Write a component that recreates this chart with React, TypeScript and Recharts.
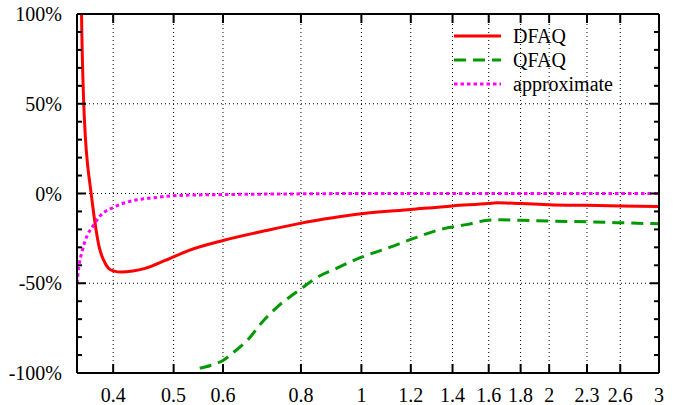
import { LineChart, Line, XAxis, YAxis, ReferenceLine } from 'recharts';

const FONT = '"Liberation Serif", "Times New Roman", serif';

const X_TICKS = [0.4, 0.5, 0.6, 0.8, 1, 1.2, 1.4, 1.6, 1.8, 2, 2.3, 2.6, 3];
const Y_TICKS = [-100, -90, -80, -70, -60, -50, -40, -30, -20, -10, 0, 10, 20, 30, 40, 50, 60, 70, 80, 90, 100];
const Y_GRID = [50, 0, -50];

// relative error in %, x on a log axis
const DFAQ = [
  { x: 0.3546, v: 146 }, { x: 0.3559, v: 100 }, { x: 0.3585, v: 53.7 }, { x: 0.3611, v: 30.6 },
  { x: 0.3638, v: 16.7 }, { x: 0.3675, v: 4 }, { x: 0.3697, v: -3 }, { x: 0.3734, v: -14.5 },
  { x: 0.3799, v: -29.9 }, { x: 0.3863, v: -37.3 }, { x: 0.3931, v: -41.6 }, { x: 0.4, v: -43.1 },
  { x: 0.4129, v: -43.8 }, { x: 0.43, v: -43.2 }, { x: 0.4501, v: -41.7 }, { x: 0.4846, v: -37.3 },
  { x: 0.5281, v: -31.8 }, { x: 0.6, v: -26.2 }, { x: 0.7, v: -20.8 }, { x: 0.8, v: -16.5 },
  { x: 0.9, v: -13.5 }, { x: 1, v: -11.3 }, { x: 1.2, v: -8.9 }, { x: 1.4, v: -6.9 },
  { x: 1.6, v: -5.6 }, { x: 1.65, v: -5.2 }, { x: 1.8, v: -5.6 }, { x: 2, v: -6.2 },
  { x: 2.3, v: -6.6 }, { x: 2.6, v: -6.9 }, { x: 3, v: -7.2 },
];

const QFAQ = [
  { x: 0.5506, v: -97.4 }, { x: 0.5728, v: -95.8 }, { x: 0.6, v: -93 }, { x: 0.6243, v: -88.4 },
  { x: 0.6559, v: -81.9 }, { x: 0.6932, v: -71.7 }, { x: 0.7327, v: -63.3 }, { x: 0.8, v: -53.1 },
  { x: 0.86, v: -45.7 }, { x: 0.9, v: -42.6 }, { x: 1, v: -35.5 }, { x: 1.1, v: -30.5 },
  { x: 1.2, v: -25.6 }, { x: 1.35, v: -19.7 }, { x: 1.48, v: -17.2 }, { x: 1.58, v: -15.1 },
  { x: 1.65, v: -14.6 }, { x: 1.8, v: -14.9 }, { x: 2, v: -15.4 }, { x: 2.3, v: -15.8 },
  { x: 2.6, v: -16.3 }, { x: 3, v: -16.9 },
];

const APPROX = [
  { x: 0.35, v: -50 }, { x: 0.3523, v: -41 }, { x: 0.3568, v: -32 }, { x: 0.3634, v: -23.4 },
  { x: 0.3702, v: -18.8 }, { x: 0.3817, v: -12.3 }, { x: 0.4009, v: -7.6 }, { x: 0.4316, v: -3.9 },
  { x: 0.4642, v: -2.4 }, { x: 0.5066, v: -1.1 }, { x: 0.6, v: -0.6 }, { x: 0.8, v: -0.2 },
  { x: 1, v: 0 }, { x: 3, v: 0 },
];

const SERIES = [
  { name: 'DFAQ', data: DFAQ, color: '#ff0000', dash: undefined },
  { name: 'QFAQ', data: QFAQ, color: '#009a00', dash: '12 7' },
  { name: 'approximate', data: APPROX, color: '#ff00ff', dash: '3.5 3' },
];

const isMajor = (v: number) => v % 50 === 0;

function BottomTick({ x, y, payload }: any) {
  return (
    <g>
      <line x1={x} y1={y} x2={x} y2={y - 9} stroke="#000" strokeWidth={2} />
      <text x={x} y={y + 22} dy="0.35em" textAnchor="middle" fontFamily={FONT} fontSize={20} fill="#000">
        {payload.value}
      </text>
    </g>
  );
}

function TopTick({ x, y }: any) {
  return <line x1={x} y1={y} x2={x} y2={y + 9} stroke="#000" strokeWidth={2} />;
}

function LeftTick({ x, y, payload }: any) {
  const major = isMajor(payload.value);
  return (
    <g>
      <line x1={x} y1={y} x2={x + (major ? 9 : 5)} y2={y} stroke="#000" strokeWidth={2} />
      {major && (
        <text x={x - 15} y={y} dy="0.35em" textAnchor="end" fontFamily={FONT} fontSize={20} fill="#000">
          {payload.value + '%'}
        </text>
      )}
    </g>
  );
}

function RightTick({ x, y, payload }: any) {
  const major = isMajor(payload.value);
  return <line x1={x} y1={y} x2={x - (major ? 9 : 5)} y2={y} stroke="#000" strokeWidth={2} />;
}

function LegendBox() {
  return (
    <svg width={220} height={90} style={{ position: 'absolute', left: 450, top: 20 }}>
      {SERIES.map((s, i) => (
        <g key={s.name}>
          <line x1={4} x2={51} y1={16 + i * 24} y2={16 + i * 24} stroke={s.color} strokeWidth={3} strokeDasharray={s.dash} />
          <text x={63} y={16 + i * 24} dy="0.35em" fontFamily={FONT} fontSize={20} fill="#000">
            {s.name}
          </text>
        </g>
      ))}
    </svg>
  );
}

export default function App() {
  const axisLine = { stroke: '#000', strokeWidth: 2 };
  return (
    <div style={{ position: 'absolute', left: 0, top: 0, width: 682, height: 405, background: '#fff' }}>
      <LineChart width={682} height={405} margin={{ top: 14, right: 23, left: 0, bottom: 0 }}>
        <XAxis
          xAxisId="b" dataKey="x" type="number" scale="log" domain={[0.35, 3]} allowDataOverflow
          ticks={X_TICKS} interval={0} height={32} tickSize={0} tickMargin={0} tickLine={false}
          axisLine={axisLine} tick={<BottomTick />}
        />
        <XAxis
          xAxisId="t" orientation="top" mirror dataKey="x" type="number" scale="log" domain={[0.35, 3]}
          allowDataOverflow ticks={X_TICKS} interval={0} tickSize={0} tickMargin={0} tickLine={false}
          axisLine={axisLine} tick={<TopTick />}
        />
        <YAxis
          yAxisId="l" type="number" domain={[-100, 100]} allowDataOverflow ticks={Y_TICKS} interval={0}
          width={77} tickSize={0} tickMargin={0} tickLine={false} axisLine={axisLine} tick={<LeftTick />}
        />
        <YAxis
          yAxisId="r" orientation="right" mirror type="number" domain={[-100, 100]} allowDataOverflow
          ticks={Y_TICKS} interval={0} tickSize={0} tickMargin={0} tickLine={false} axisLine={axisLine}
          tick={<RightTick />}
        />
        {X_TICKS.filter((t) => t < 3).map((t) => (
          <ReferenceLine key={'gx' + t} xAxisId="b" yAxisId="l" x={t} stroke="#000" strokeWidth={1} strokeDasharray="1 3" />
        ))}
        {Y_GRID.map((t) => (
          <ReferenceLine key={'gy' + t} xAxisId="b" yAxisId="l" y={t} stroke="#000" strokeWidth={1} strokeDasharray="1 3" />
        ))}
        {SERIES.map((s) => (
          <Line
            key={s.name} xAxisId="b" yAxisId="l" data={s.data} dataKey="v" type="monotone"
            stroke={s.color} strokeWidth={3} strokeDasharray={s.dash} dot={false} activeDot={false}
            isAnimationActive={false}
          />
        ))}
      </LineChart>
      <LegendBox />
    </div>
  );
}
